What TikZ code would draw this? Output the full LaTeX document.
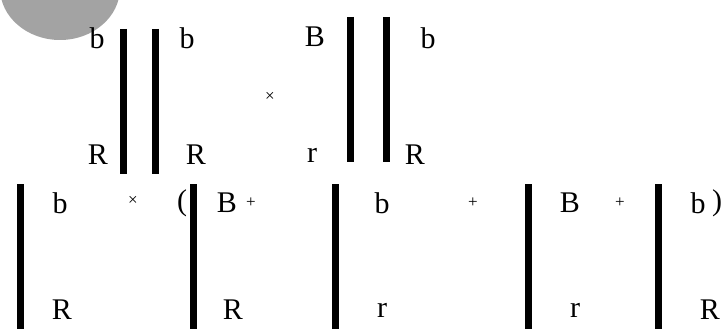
\documentclass[tikz,border=0pt]{standalone}
\usepackage{fontspec}
\setmainfont{Liberation Serif}

\begin{document}
\begin{tikzpicture}[x=1pt, y=-1pt,
    allele/.style={font=\fontsize{30}{34}\selectfont, inner sep=0pt},
    op/.style={font=\fontsize{17}{19}\selectfont, inner sep=0pt},
    chrom/.style={line width=7pt}]
    \useasboundingbox (0,0) rectangle (724,329);

    % 左上の灰色の影
    \fill[black!36] (60,-12) ellipse (60 and 52);

    % 上段：親の染色体
    \foreach \x/\ya/\yb in {123/29/174, 155/29/174, 350/17/162, 386/17/162}{
        \draw[chrom] (\x,\ya) -- (\x,\yb);
    }
    \node[allele] (pa1) at (97,38) {b};
    \node[allele] (pa2) at (187,38) {b};
    \node[allele] (pa3) at (98,155) {R};
    \node[allele] (pa4) at (196,155) {R};
    \node[op] (cross1) at (270,97) {×};
    \node[allele] (pb1) at (315,37) {B};
    \node[allele] (pb2) at (428,38) {b};
    \node[allele] (pb3) at (312,155) {r};
    \node[allele] (pb4) at (415,155) {R};

    % 下段：配偶子の組み合わせ
    \foreach \x in {20,193,335,528,658}{
        \draw[chrom] (\x,184) -- (\x,329);
    }
    \node[allele] (ga1) at (60,203) {b};
    \node[allele] (ga2) at (62,310) {R};
    \node[op] (cross2) at (133,201) {×};
    \node[allele] (paren1) at (182,203) {(};
    \node[allele] (gb1) at (227,203) {B};
    \node[op] (plus1) at (251,203) {+};
    \node[allele] (gb2) at (233,310) {R};
    \node[allele] (gc1) at (382,203) {b};
    \node[allele] (gc2) at (382,310) {r};
    \node[op] (plus2) at (473,203) {+};
    \node[allele] (gd1) at (570,203) {B};
    \node[op] (plus3) at (620,203) {+};
    \node[allele] (gd2) at (575,310) {r};
    \node[allele] (ge1) at (698,203) {b};
    \node[allele] (paren2) at (717,203) {)};
    \node[allele] (ge2) at (710,310) {R};
\end{tikzpicture}
\end{document}
